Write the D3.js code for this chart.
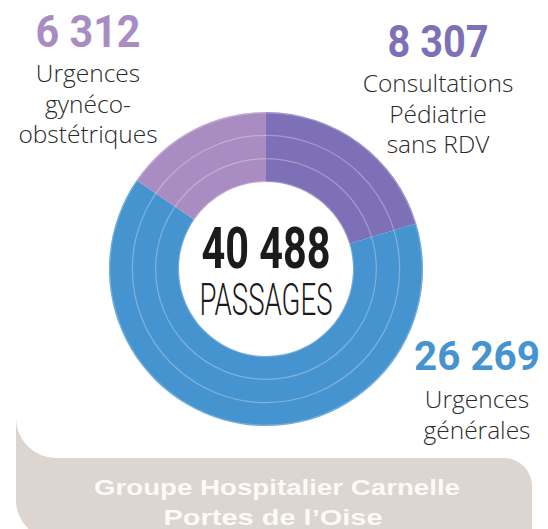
<!DOCTYPE html>
<html>
<head>
<meta charset="utf-8">
<script src="https://cdn.jsdelivr.net/npm/d3@7"></script>
<style>
  html, body { margin: 0; padding: 0; background: #fff; }
  svg { display: block; }
</style>
</head>
<body>
<script>
// data
const categories = ['Consultations Pédiatrie sans RDV', 'Urgences générales', 'Urgences gynéco-obstétriques'];
const labelLines = [['Consultations', 'Pédiatrie', 'sans RDV'], ['Urgences', 'générales'], ['Urgences', 'gynéco-', 'obstétriques']];
const values = [8307, 26269, 6312];
const totalPassages = 40488; // as printed in the centre
const colors = ['#7d70b6', '#4593cf', '#a98cc1'];
const centerLabel = 'PASSAGES';
const footer = ['Groupe Hospitalier Carnelle', 'Portes de l\u2019Oise'];

// layout (not data)
const width = 548, height = 529;
const cx = 266, cy = 269;
const rIn = 87, rOut = 157;
const labelPos = [
  { x: 438, y: 57, w: 101, size: 44, first: 35 },
  { x: 477, y: 370, w: 126, size: 40, first: 38 },
  { x: 88, y: 47, w: 105, size: 44, first: 35 },
];

const fr = d3.formatLocale({ decimal: ',', thousands: '\u00a0', grouping: [3] });
const fmt = fr.format(',d');

const svg = d3.select('body').append('svg')
  .attr('width', width)
  .attr('height', height);

// beige footer band with white rounded inset
svg.append('path')
  .attr('d', `M16,418 L16,500 A40,40 0 0 0 56,540 L532,540 L532,486
    A28,28 0 0 0 504,458 L56,458 A40,40 0 0 1 16,418 Z`)
  .attr('fill', '#dcd5d0');

svg.append('g')
  .attr('font-family', 'Liberation Sans, Arial, sans-serif')
  .attr('font-weight', 'bold')
  .attr('font-size', 22)
  .attr('fill', '#fbfaf9')
  .attr('text-anchor', 'middle')
  .selectAll('text')
  .data(footer)
  .join('text')
  .attr('x', (d, i) => i === 0 ? 277 : 273)
  .attr('y', (d, i) => 495 + i * 30)
  .attr('textLength', (d, i) => i === 0 ? 366 : 219)
  .attr('lengthAdjust', 'spacingAndGlyphs')
  .text((d) => d);

// donut
const pie = d3.pie().sort(null).value((d) => d).startAngle(0);
const arcs = pie(values);
const arc = d3.arc().innerRadius(rIn).outerRadius(rOut);

const g = svg.append('g').attr('transform', `translate(${cx},${cy})`);

g.selectAll('path.slice')
  .data(arcs)
  .join('path')
  .classed('slice', true)
  .attr('d', arc)
  .attr('fill', (d, i) => colors[i]);

// thin bands inside the ring
const step = (rOut - rIn) / 3;
g.selectAll('circle.band')
  .data([rIn + step, rIn + 2 * step])
  .join('circle')
  .classed('band', true)
  .attr('r', (d) => d)
  .attr('fill', 'none')
  .attr('stroke', '#ffffff')
  .attr('stroke-opacity', 0.3)
  .attr('stroke-width', 1.2);

g.selectAll('circle.edge')
  .data([rIn + 0.5, rOut - 0.7])
  .join('circle')
  .classed('edge', true)
  .attr('r', (d) => d)
  .attr('fill', 'none')
  .attr('stroke', '#ffffff')
  .attr('stroke-opacity', 0.25)
  .attr('stroke-width', 1.4);

// center total
g.append('text')
  .attr('text-anchor', 'middle')
  .attr('y', -1)
  .attr('font-family', 'Roboto, Liberation Sans, sans-serif')
  .attr('font-weight', 'bold')
  .attr('font-size', 58)
  .attr('fill', '#1c1a1b')
  .attr('textLength', 129)
  .attr('lengthAdjust', 'spacingAndGlyphs')
  .text(fmt(totalPassages));

g.append('text')
  .attr('text-anchor', 'middle')
  .attr('y', 46)
  .attr('font-family', 'Roboto, Liberation Sans, sans-serif')
  .attr('font-weight', 300)
  .attr('font-size', 45)
  .attr('fill', '#1c1a1b')
  .attr('textLength', 133)
  .attr('lengthAdjust', 'spacingAndGlyphs')
  .text(centerLabel);

// slice labels
const lab = svg.selectAll('g.label')
  .data(arcs)
  .join('g')
  .classed('label', true)
  .attr('transform', (d, i) => `translate(${labelPos[i].x},${labelPos[i].y})`)
  .attr('text-anchor', 'middle');

lab.append('text')
  .attr('font-family', 'Roboto, Liberation Sans, sans-serif')
  .attr('font-weight', 'bold')
  .attr('font-size', (d, i) => labelPos[i].size)
  .attr('fill', (d, i) => colors[i])
  .attr('textLength', (d, i) => labelPos[i].w)
  .attr('lengthAdjust', 'spacingAndGlyphs')
  .text((d) => fmt(d.value));

lab.each(function (d, i) {
  d3.select(this).selectAll('text.line')
    .data(labelLines[i])
    .join('text')
    .classed('line', true)
    .attr('y', (t, j) => labelPos[i].first + j * 30.5)
    .attr('font-family', 'Open Sans, Roboto, sans-serif')
    .attr('font-weight', 300)
    .attr('font-size', 24.5)
    .attr('fill', '#2b2a2a')
    .text((t) => t);
});
</script>
</body>
</html>
